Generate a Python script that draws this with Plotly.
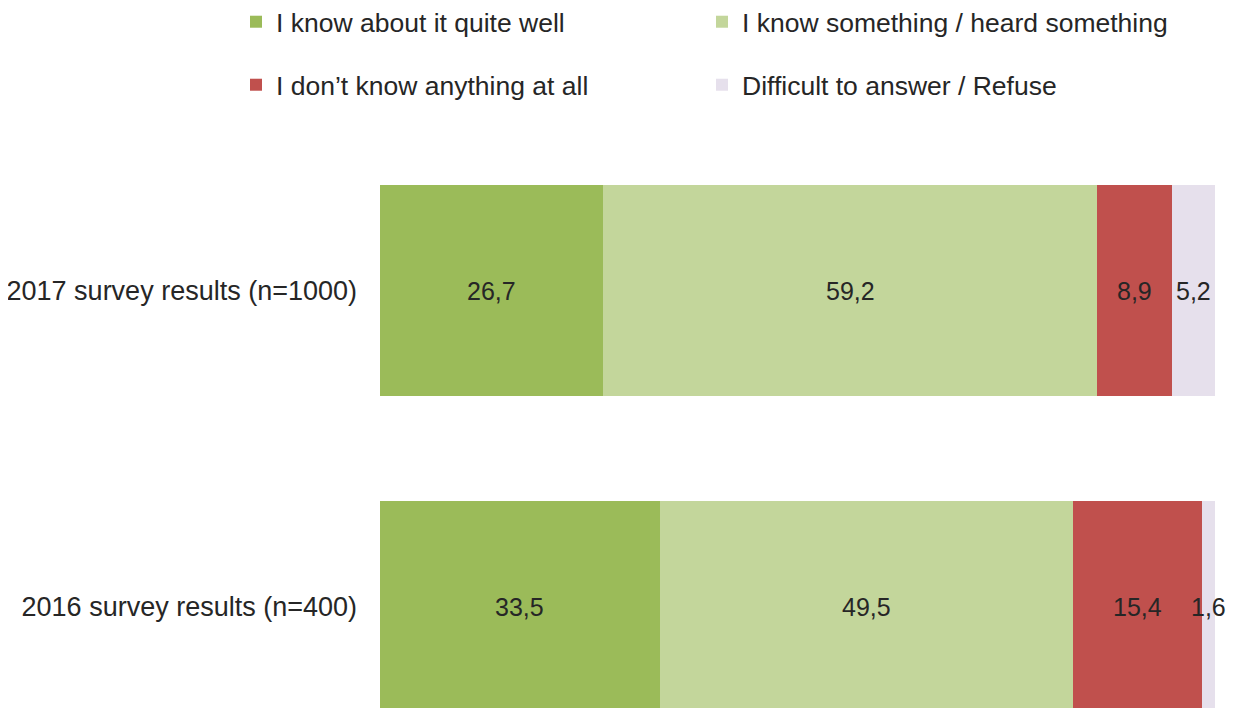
import plotly.graph_objects as go

categories = ["2016 survey results (n=400)", "2017 survey results (n=1000)"]
series_names = [
    "I know about it quite well",
    "I know something / heard something",
    "I don’t know anything at all",
    "Difficult to answer / Refuse",
]
values = {
    "I know about it quite well": [33.5, 26.7],
    "I know something / heard something": [49.5, 59.2],
    "I don’t know anything at all": [15.4, 8.9],
    "Difficult to answer / Refuse": [1.6, 5.2],
}
colors = ["#9BBB59", "#C3D69B", "#C0504D", "#E6E0EC"]

FONT = "Liberation Sans, Arial, sans-serif"
TXT = "#262626"
W, H = 1227, 700  # page has 8px body margin

legend_ids = ["legend", "legend2", "legend3", "legend4"]
legend_pos = [(228, 14), (694, 14), (228, 77), (694, 77)]

fig = go.Figure()
annotations = []
cum = [0.0] * len(categories)
for name, col, lg in zip(series_names, colors, legend_ids):
    vals = values[name]
    fig.add_trace(go.Bar(
        y=categories, x=vals, name=name, orientation="h",
        marker=dict(color=col, line=dict(width=0)),
        legend=lg, hoverinfo="skip",
    ))
    for i, (c, v) in enumerate(zip(categories, vals)):
        annotations.append(dict(
            x=cum[i] + v / 2, y=c, xref="x", yref="y",
            text=f"{v:.1f}".replace(".", ","), showarrow=False,
            font=dict(family=FONT, size=25, color=TXT),
            xanchor="center", yanchor="middle",
        ))
        cum[i] += v

layout_legends = {}
for lg, (px, py) in zip(legend_ids, legend_pos):
    layout_legends[lg] = dict(
        orientation="h", xref="container", yref="container",
        x=px / W, xanchor="left", y=1 - py / H, yanchor="middle",
        font=dict(family=FONT, size=26.5, color=TXT), bgcolor="rgba(0,0,0,0)",
    )

fig.update_layout(
    width=W, height=H,
    barmode="stack", bargap=0.332,
    paper_bgcolor="white", plot_bgcolor="white",
    margin=dict(l=372, r=20, t=124.5, b=0, autoexpand=False),
    font=dict(family=FONT, size=25, color=TXT),
    annotations=annotations,
    showlegend=True,
    **layout_legends,
)
fig.update_xaxes(range=[0, 100], visible=False, showgrid=False, zeroline=False)
fig.update_yaxes(type="category", categoryorder="array", categoryarray=categories,
                 range=[-0.321, 1.5], showgrid=False, zeroline=False, showline=False,
                 automargin=False, ticks="", ticklabelstandoff=22,
                 tickfont=dict(family=FONT, size=27, color=TXT))

fig.write_html("out.html")
